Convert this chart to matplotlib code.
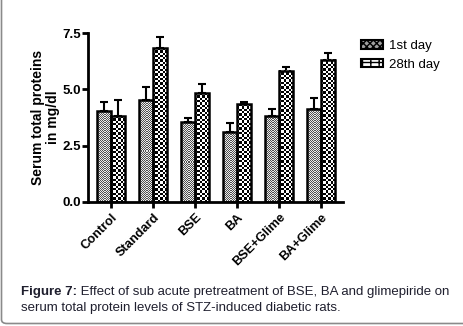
import matplotlib
matplotlib.use("Agg")
import matplotlib.pyplot as plt
import numpy as np
from matplotlib.patches import Patch, FancyBboxPatch

categories = ["Control", "Standard", "BSE", "BA", "BSE+Glime", "BA+Glime"]
day1 = [4.04, 4.52, 3.53, 3.11, 3.82, 4.12]
day1_err = [0.40, 0.58, 0.19, 0.40, 0.30, 0.48]
day28 = [3.82, 6.85, 4.83, 4.34, 5.84, 6.33]
day28_err = [0.72, 0.48, 0.40, 0.08, 0.17, 0.31]
series_names = ["1st day", "28th day"]
yticks = [0.0, 2.5, 5.0, 7.5]

plt.rcParams['font.family'] = ['Liberation Sans', 'DejaVu Sans']

fig = plt.figure(figsize=(4.64, 3.26), dpi=100)
ax = fig.add_axes([88/464, 1-201.7/326, (343-88)/464, (201.7-33.3)/326])

frame = FancyBboxPatch((1.5/464, 2.5/326), 1.2, 1.2, boxstyle="round,pad=0,rounding_size=0.012",
                       transform=fig.transFigure, facecolor='none', edgecolor='#8a8a8a', lw=1.2,
                       clip_on=False)
fig.patches.append(frame)

x = np.arange(len(categories))
w = 0.335
ax.set_xlim(-0.55, 5.52)
ax.set_ylim(0, 7.5)

bars1 = ax.bar(x - w/2, day1, w, facecolor='none', edgecolor='black', linewidth=1.8, zorder=3)
bars2 = ax.bar(x + w/2, day28, w, facecolor='none', edgecolor='black', linewidth=1.8, zorder=3)
ax.errorbar(x - w/2, day1, yerr=[np.zeros(len(day1)), day1_err], fmt='none', ecolor='black',
            elinewidth=1.5, capsize=3, capthick=1.5, zorder=2)
ax.errorbar(x + w/2, day28, yerr=[np.zeros(len(day28)), day28_err], fmt='none', ecolor='black',
            elinewidth=1.5, capsize=3, capthick=1.5, zorder=2)

fig.canvas.draw()

def fill_checker(bar, cell_px, c0, c1):
    x0, y0 = bar.get_x(), bar.get_y()
    x1, y1 = x0 + bar.get_width(), y0 + bar.get_height()
    p0 = ax.transData.transform((x0, y0))
    p1 = ax.transData.transform((x1, y1))
    nc = max(1, int(round(abs(p1[0]-p0[0]) / cell_px)))
    nr = max(1, int(round(abs(p1[1]-p0[1]) / cell_px)))
    ii, jj = np.indices((nr, nc))
    arr = ((ii + jj) % 2)
    rgb = np.zeros((nr, nc, 3))
    rgb[arr == 0] = matplotlib.colors.to_rgb(c0)
    rgb[arr == 1] = matplotlib.colors.to_rgb(c1)
    ax.imshow(rgb, extent=(x0, x1, y0, y1), aspect='auto', interpolation='nearest',
              zorder=2.5, origin='lower')

for b in bars1:
    fill_checker(b, 1.0, '#505050', '#ececec')
for b in bars2:
    fill_checker(b, 2.3, '#000000', '#ffffff')
ax.set_xlim(-0.55, 5.52)
ax.set_ylim(0, 7.5)

for s in ['top', 'right']:
    ax.spines[s].set_visible(False)
for s in ['left', 'bottom']:
    ax.spines[s].set_linewidth(2)
ax.tick_params(axis='both', width=2, length=4, direction='out', labelsize=9.5, pad=1)
ax.tick_params(axis='x', pad=3)
ax.set_yticks(yticks)
ax.set_yticklabels([f"{v:.1f}" for v in yticks], fontweight='bold')
ax.set_xticks(x)
ax.set_xticklabels(categories, rotation=45, ha='right', rotation_mode='anchor', fontweight='bold', fontsize=9.2)

ax.set_ylabel("Serum total proteins\nin mg/dl", fontweight='bold', fontsize=10, linespacing=1.1)
ax.yaxis.set_label_coords(-0.11, 0.5)

handles = [Patch(facecolor='#a0a0a0', edgecolor='black', lw=1.5, hatch='xxxxx'),
           Patch(facecolor='white', edgecolor='black', lw=1.5, hatch='++')]
leg = fig.legend(handles, series_names, loc='upper left', bbox_to_anchor=(361/464, 1-40/326),
                 frameon=False, fontsize=9.5, handlelength=1.7, handleheight=0.6,
                 handletextpad=0.45, labelspacing=0.5, borderaxespad=0, borderpad=0)

cap_color = '#1f1f2e'
cap_fs = 9.5
t1 = fig.text(21/464, 1-295/326, "Figure 7:", fontweight='bold', fontsize=cap_fs, color=cap_color)
ax.annotate(" Effect of sub acute pretreatment of BSE, BA and glimepiride on", xy=(1, 0),
            xycoords=t1, va='bottom', ha='left', fontsize=cap_fs, color=cap_color, annotation_clip=False)
fig.text(21/464, 1-311/326, "serum total protein levels of STZ-induced diabetic rats.",
         fontsize=cap_fs, color=cap_color)

fig.savefig("out.png", dpi=100)
